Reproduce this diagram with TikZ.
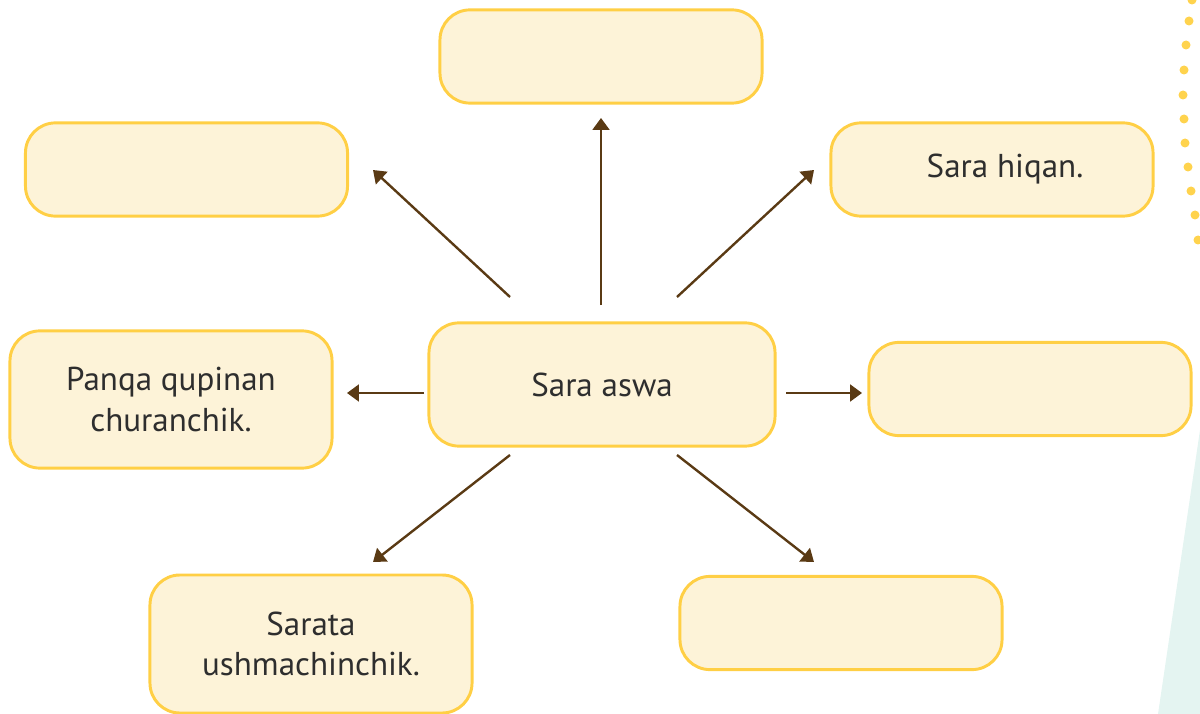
\documentclass[tikz,border=0pt]{standalone}
\usepackage{fontspec}
\setmainfont{PT Sans}
\usetikzlibrary{arrows.meta}

\definecolor{boxfill}{HTML}{FDF3D8}
\definecolor{boxline}{HTML}{FFCF45}
\definecolor{arrowbrown}{HTML}{5A3A14}
\definecolor{dotyellow}{HTML}{FFD34D}
\definecolor{tealbg}{HTML}{E4F4F1}
\definecolor{inktext}{HTML}{2E2E2E}

\begin{document}
\begin{tikzpicture}[x=0.025cm,y=-0.025cm,
  answer/.style={draw=boxline,fill=boxfill,line width=2.1pt,rounded corners=0.75cm,
    minimum width=8.05cm,minimum height=2.33cm,inner sep=0pt,align=center,
    text=inktext,font=\fontsize{23.5}{29}\selectfont},
  link/.style={draw=arrowbrown,line width=1.7pt,-{Triangle[length=8.5pt,width=12pt]}}]
\useasboundingbox (0,0) rectangle (1200,714);

% background decoration
\fill[tealbg] (1200,430) -- (1158,714) -- (1200,714) -- cycle;
\foreach \px/\py in {1192/0,1189/21,1186/45,1184/70,1183/95,1184/119,1185/143,1188/167,1191/191,1195/215,1198/240}
  \fill[dotyellow] (\px,\py) circle [radius=3.2pt];

% boxes
\node[answer] (top) at (601,56.5) {};
\node[answer] (upleft) at (186.5,169.5) {};
\node[answer] (upright) at (992,169.5) {\hspace*{0.65cm}Sara hiqan.};
\node[answer,minimum width=8.65cm,minimum height=3.08cm] (centre) at (602,384.5) {Sara aswa};
\node[answer,minimum height=3.43cm] (left) at (171,399.5) {Panqa qupinan\\churanchik.};
\node[answer] (right) at (1030,389) {};
\node[answer,minimum height=3.45cm] (downleft) at (311,644) {Sarata\\ushmachinchik.};
\node[answer] (downright) at (841,623) {};

% arrow ends
\coordinate (upS) at (601,305);
\coordinate (upE) at (601,118);
\coordinate (ulS) at (510,297);
\coordinate (ulE) at (373,170);
\coordinate (urS) at (677,297);
\coordinate (urE) at (814,170);
\coordinate (lS) at (424,393);
\coordinate (lE) at (347,393);
\coordinate (rS) at (786,393);
\coordinate (rE) at (862,393);
\coordinate (dlS) at (510,455);
\coordinate (dlE) at (373,562);
\coordinate (drS) at (677,455);
\coordinate (drE) at (814,562);

% arrows
\draw[link] (upS) -- (upE);
\draw[link] (ulS) -- (ulE);
\draw[link] (urS) -- (urE);
\draw[link] (lS) -- (lE);
\draw[link] (rS) -- (rE);
\draw[link] (dlS) -- (dlE);
\draw[link] (drS) -- (drE);
\end{tikzpicture}
\end{document}
